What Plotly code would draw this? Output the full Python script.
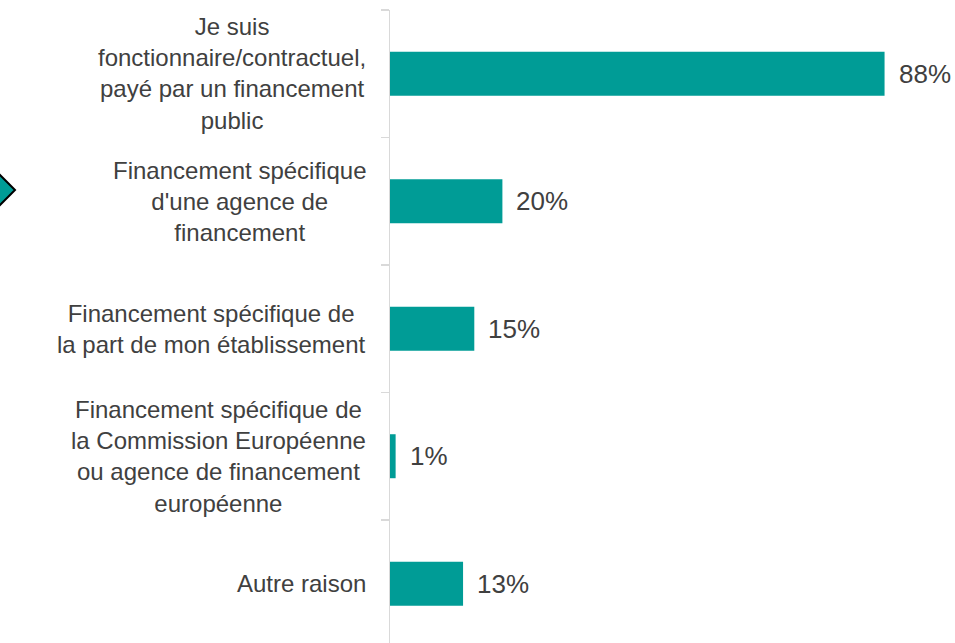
import plotly.graph_objects as go

categories = [
    "Je suis<br>fonctionnaire/contractuel,<br>payé par un financement<br>public",
    "Financement spécifique<br>d'une agence de<br>financement",
    "Financement spécifique de<br>la part de mon établissement",
    "Financement spécifique de<br>la Commission Européenne<br>ou agence de financement<br>européenne",
    "Autre raison",
]
values = [88, 20, 15, 1, 13]
value_labels = ["88%", "20%", "15%", "1%", "13%"]

TEAL = "#009C96"
TEXT = "#404040"
FONT = "Arial, Liberation Sans, sans-serif"

pos = list(range(len(categories)))

fig = go.Figure()
fig.add_trace(go.Bar(
    x=values, y=pos, orientation="h", width=0.345,
    marker=dict(color=TEAL, line=dict(width=0)),
    hoverinfo="skip",
))

for p, v, lab in zip(pos, values, value_labels):
    fig.add_annotation(x=v, y=p, xref="x", yref="y", text=lab, showarrow=False,
                       xanchor="left", yanchor="middle", xshift=12,
                       font=dict(size=26, color=TEXT, family=FONT))

for p, c in zip(pos, categories):
    fig.add_annotation(x=0, y=p, xref="paper", yref="y", text=c, showarrow=False,
                       xanchor="right", yanchor="middle", align="center", xshift=-22,
                       font=dict(size=24, color=TEXT, family=FONT))

# decorative diamond at the left edge
fig.add_shape(type="path", xref="paper", yref="paper", xsizemode="pixel", ysizemode="pixel",
              xanchor=0, yanchor=1,
              path="M -375 -180 L -395 -160 L -415 -180 L -395 -200 Z",
              fillcolor=TEAL, line=dict(color="black", width=2))

fig.update_layout(
    width=955, height=643,
    margin=dict(l=390, r=3, t=10, b=0),
    plot_bgcolor="white", paper_bgcolor="white",
    showlegend=False,
    xaxis=dict(range=[0, 100], visible=False, fixedrange=True),
    yaxis=dict(range=[4.465, -0.5], tickvals=[-0.5, 0.5, 1.5, 2.5, 3.5, 4.5],
               ticktext=[""] * 6, ticks="outside", ticklen=8, tickcolor="#D9D9D9", tickwidth=1.5,
               showline=True, linecolor="#D9D9D9", linewidth=1.5, showgrid=False,
               zeroline=False, fixedrange=True),
)

fig.write_html("out.html", config={"displayModeBar": False, "staticPlot": True},
               post_script="document.body.style.margin='0';document.body.style.overflow='hidden';")
